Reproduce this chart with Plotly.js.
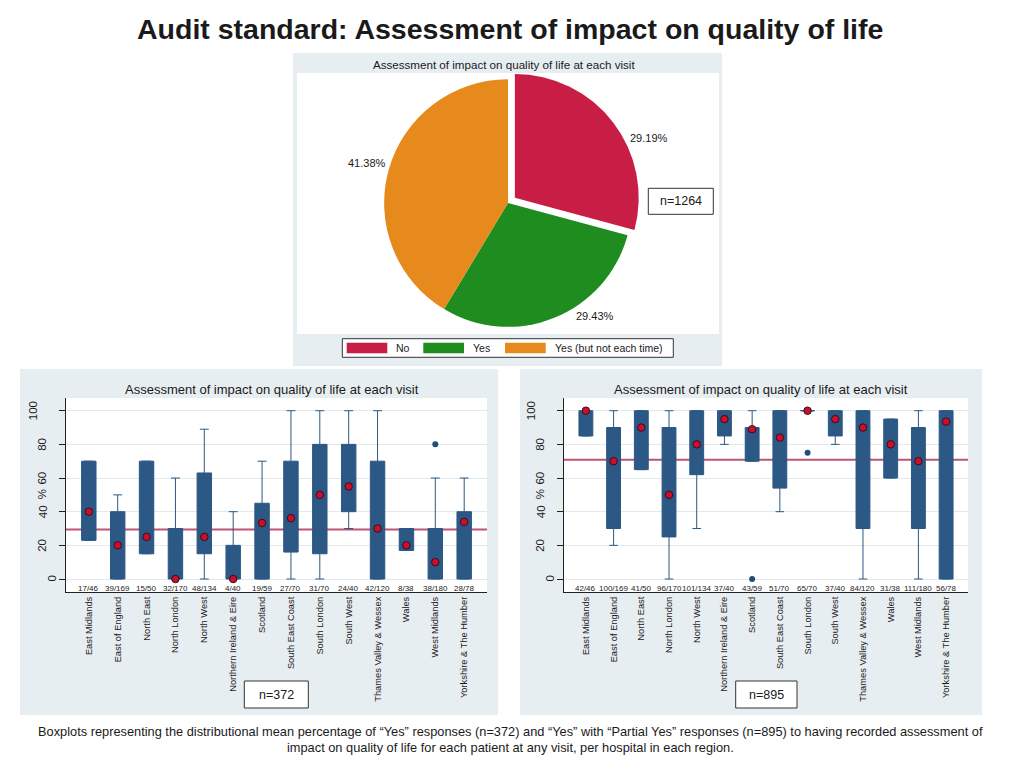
<!DOCTYPE html>
<html>
<head>
<meta charset="utf-8">
<script src="https://cdn.plot.ly/plotly-3.0.1.min.js"></script>
<style>html,body{margin:0;padding:0;background:#fff;}#chart{width:1024px;height:768px;}</style>
</head>
<body>
<div id="chart"></div>
<script>
// ---------- DATA ----------
const pieLabels = ["No", "Yes", "Yes (but not each time)"];
const pieCounts = [369, 372, 523];
const pieColors = ["#c81e46", "#1e8c1e", "#e68a1e"];

const regions = ["East Midlands", "East of England", "North East", "North London", "North West",
  "Northern Ireland & Eire", "Scotland", "South East Coast", "South London", "South West",
  "Thames Valley & Wessex", "Wales", "West Midlands", "Yorkshire & The Humber"];

// "Yes" responses (n=372)
const ratioYes = ["17/46", "39/169", "15/50", "32/170", "48/134", "4/40", "19/59", "27/70", "31/70", "24/40", "42/120", "8/38", "38/180", "28/78"];
const lowYes   = [23, 0, 15, 0, 0, 0, 0, 0, 0, 30, 0, 17, 0, 0];
const q1Yes    = [23, 0, 15, 0, 15, 0, 0, 16, 15, 40, 0, 17, 0, 0];
const medYes   = [33, 14, 20, 0, 25, 0, 33, 33, 50, 60, 25, 20, 0, 33];
const q3Yes    = [70, 40, 70, 30, 63, 20, 45, 70, 80, 80, 70, 30, 30, 40];
const highYes  = [70, 50, 70, 60, 89, 40, 70, 100, 100, 100, 100, 30, 60, 60];
const meanYes  = [40, 20, 25, 0, 25, 0, 33.3, 36.2, 50, 55, 30, 20, 10, 33.9];
const outYesX  = ["West Midlands"];
const outYesY  = [80];

// "Yes" + "Partial Yes" responses (n=895)
const ratioAll = ["42/46", "100/169", "41/50", "96/170", "101/134", "37/40", "43/59", "51/70", "65/70", "37/40", "84/120", "31/38", "111/180", "56/78"];
const lowAll   = [85, 20, 65, 0, 30, 80, 70, 40, 100, 80, 0, 60, 0, 0];
const q1All    = [85, 30, 65, 25, 62, 85, 70, 54, 100, 85, 30, 60, 30, 0];
const medAll   = [100, 70, 90, 50, 85, 100, 90, 90, 100, 100, 100, 80, 75, 100];
const q3All    = [100, 90, 100, 90, 100, 100, 90, 100, 100, 100, 100, 95, 90, 100];
const highAll  = [100, 100, 100, 100, 100, 100, 100, 100, 100, 100, 100, 95, 100, 100];
const meanAll  = [100, 70, 90, 50, 80, 95, 89, 84, 100, 95, 90, 80, 70, 93.5];
const outAllX  = ["Scotland", "South London"];
const outAllY  = [0, 75];

const yTicks = [0, 20, 40, 60, 80, 100];

// ---------- HELPERS ----------
const W = 1024, H = 768;
const px = v => v / W;
const py = v => 1 - v / H;
const FONT = "Liberation Sans, Arial, Helvetica, sans-serif";
const TXT = "#1a1a1a";
const PANEL = "#e7eef1";
const BOXFILL = "#2b5884";
const BOXLINE = "#2b5884";
const MEANRED = "#c8102e";
const REFLINE = "#bd5473";

const total = pieCounts.reduce((a, b) => a + b, 0);
const pct = pieCounts.map(v => v / total * 100);
const refYes = pct[1];
const refAll = pct[1] + pct[2];

// ---------- TRACES ----------
const traces = [];
traces.push({
  type: "pie", labels: pieLabels, values: pieCounts, sort: false,
  direction: "clockwise", rotation: 0, pull: [0.07, 0, 0],
  marker: { colors: pieColors, line: { width: 0 } },
  textinfo: "none", showlegend: false, hoverinfo: "label+percent",
  domain: { x: [px(375.5), px(640.5)], y: [py(335.5), py(70.5)] }
});

function addBoxes(xa, ya, low, q1, med, q3, high, mean, ox, oy) {
  traces.push({
    type: "box", x: regions, lowerfence: low, q1: q1, median: med, q3: q3, upperfence: high,
    xaxis: xa, yaxis: ya, fillcolor: BOXFILL, line: { color: BOXLINE, width: 1 },
    width: 0.5, whiskerwidth: 0.62, boxpoints: false, showlegend: false, hoverinfo: "x+y"
  });
  traces.push({
    type: "scatter", mode: "markers", x: ox, y: oy, xaxis: xa, yaxis: ya,
    marker: { size: 6, color: "#1f4e7a" }, showlegend: false
  });
  traces.push({
    type: "scatter", mode: "markers", x: regions, y: mean, xaxis: xa, yaxis: ya,
    marker: { size: 7.5, color: MEANRED, line: { color: "#3a0d18", width: 1 } }, showlegend: false
  });
}
addBoxes("x", "y", lowYes, q1Yes, medYes, q3Yes, highYes, meanYes, outYesX, outYesY);
addBoxes("x2", "y2", lowAll, q1All, medAll, q3All, highAll, meanAll, outAllX, outAllY);

// ---------- AXES ----------
function xAxis(d0, d1, anchor) {
  return {
    domain: [px(d0), px(d1)], anchor: anchor, type: "category",
    categoryorder: "array", categoryarray: regions, range: [-0.79, 13.79],
    tickangle: -90, ticks: "", showline: true, linecolor: "#222", linewidth: 1,
    showgrid: false, zeroline: false, fixedrange: true,
    tickfont: { family: FONT, size: 9.3, color: TXT }
  };
}
function yAxis(anchor) {
  return {
    domain: [py(592), py(398)], anchor: anchor, range: [-7.72, 107.55],
    tickvals: yTicks, showticklabels: false, ticks: "outside", ticklen: 6,
    tickcolor: "#222", showline: true, linecolor: "#222", linewidth: 1,
    showgrid: true, gridcolor: "#e2e9ec", gridwidth: 1, zeroline: false, fixedrange: true
  };
}

// ---------- SHAPES ----------
const shapes = [];
function rectPx(x0, y0, x1, y1, fill, line, layer) {
  shapes.push({
    type: "rect", xref: "paper", yref: "paper", x0: px(x0), x1: px(x1), y0: py(y1), y1: py(y0),
    fillcolor: fill, line: line ? { color: line, width: 1 } : { width: 0 }, layer: layer || "below"
  });
}
// pie panel
rectPx(293, 53, 722, 366, PANEL);
rectPx(297, 73, 719, 334, "#ffffff");
// box panels
rectPx(20, 369, 498, 715, PANEL);
rectPx(66, 398, 487, 592, "#ffffff");
rectPx(520, 369, 982, 715, PANEL);
rectPx(564, 398, 968, 592, "#ffffff");
// legend
rectPx(342.3, 338.7, 673.3, 357.3, "#ffffff", "#333333", "above");
const keyX = [[346.7, 387.3], [423.3, 464], [505, 545.7]];
keyX.forEach((k, i) => rectPx(k[0], 342.7, k[1], 353.3, pieColors[i], null, "above"));
// n boxes
rectPx(648.3, 188.3, 713.3, 214.3, "#ffffff", "#333333", "above");
rectPx(244.3, 681, 308.3, 708, "#ffffff", "#333333", "above");
rectPx(735.7, 681, 797, 708, "#ffffff", "#333333", "above");
// reference lines (drawn beneath the boxes)
shapes.push({ type: "line", xref: "x domain", yref: "y", x0: 0, x1: 1, y0: refYes, y1: refYes,
  line: { color: REFLINE, width: 2 }, layer: "below" });
shapes.push({ type: "line", xref: "x2 domain", yref: "y2", x0: 0, x1: 1, y0: refAll, y1: refAll,
  line: { color: REFLINE, width: 2 }, layer: "below" });

// ---------- ANNOTATIONS ----------
const ann = [];
function txt(text, x, y, size, opts) {
  ann.push(Object.assign({
    text: text, xref: "paper", yref: "paper", x: px(x), y: py(y), showarrow: false,
    xanchor: "center", yanchor: "middle", font: { family: FONT, size: size, color: TXT }
  }, opts || {}));
}
txt("<b>Audit standard: Assessment of impact on quality of life</b>", 510, 29, 28.5);
txt("Assessment of impact on quality of life at each visit", 504, 65, 11.6);
const pieLabPos = [[649, 138], [595, 316], [367, 163]];
pct.forEach((p, i) => txt(p.toFixed(2) + "%", pieLabPos[i][0], pieLabPos[i][1], 11));
const legTextX = [394, 471, 552.7];
pieLabels.forEach((l, i) => txt(l, legTextX[i], 348.3, 10.5, { xanchor: "left" }));
txt("n=" + total, 680.8, 201.3, 12.5);

txt("Assessment of impact on quality of life at each visit", 272, 389, 13);
txt("Assessment of impact on quality of life at each visit", 761, 389, 13);

function yLabels(axisPx, yref) {
  yTicks.forEach(t => {
    const s = String(t);
    ann.push({
      text: s, xref: "paper", yref: yref, x: px(axisPx - 13.5 - 10 * (s.length - 1)), y: t,
      showarrow: false, textangle: -90, xanchor: "center", yanchor: "middle",
      font: { family: FONT, size: 11.5, color: TXT }
    });
  });
  ann.push({
    text: "%", xref: "paper", yref: yref, x: px(axisPx - 24.5), y: 50,
    showarrow: false, textangle: -90, xanchor: "center", yanchor: "middle",
    font: { family: FONT, size: 11.5, color: TXT }
  });
}
yLabels(66, "y");
yLabels(564, "y2");

function ratioLabels(list, xref, yref) {
  list.forEach((r, i) => ann.push({
    text: r, xref: xref, yref: yref, x: regions[i], y: -5.4, showarrow: false,
    xanchor: "center", yanchor: "middle", font: { family: FONT, size: 8, color: TXT }
  }));
}
ratioLabels(ratioYes, "x", "y");
ratioLabels(ratioAll, "x2", "y2");

txt("n=" + pieCounts[1], 276.3, 694.5, 12.5);
txt("n=" + (pieCounts[1] + pieCounts[2]), 766.3, 694.5, 12.5);

txt("Boxplots representing the distributional mean percentage of \u201cYes\u201d responses (n=" + pieCounts[1] +
    ") and \u201cYes\u201d with \u201cPartial Yes\u201d responses (n=" + (pieCounts[1] + pieCounts[2]) +
    ") to having recorded assessment of", 510.5, 731, 12.8);
txt("impact on quality of life for each patient at any visit, per hospital in each region.", 510.5, 747, 12.8);

const layout = {
  width: W, height: H, margin: { l: 0, r: 0, t: 0, b: 0 },
  paper_bgcolor: "#ffffff", plot_bgcolor: "rgba(0,0,0,0)",
  font: { family: FONT, color: TXT },
  showlegend: false,
  xaxis: xAxis(66, 487, "y"), yaxis: yAxis("x"),
  xaxis2: xAxis(564, 968, "y2"), yaxis2: yAxis("x2"),
  shapes: shapes, annotations: ann
};

Plotly.newPlot("chart", traces, layout, { displayModeBar: false, staticPlot: true });
</script>
</body>
</html>
